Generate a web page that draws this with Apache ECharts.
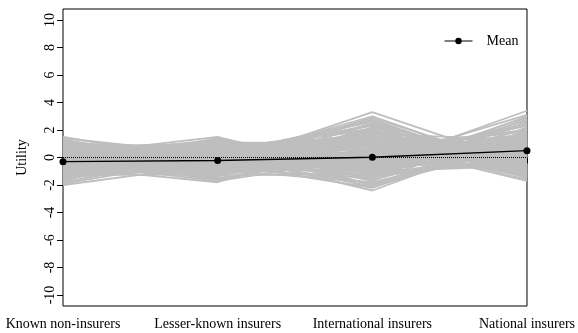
<!DOCTYPE html>
<html>
<head>
<meta charset="utf-8">
<script src="https://cdn.jsdelivr.net/npm/echarts@6/dist/echarts.min.js"></script>
<style>
  html, body { margin: 0; padding: 0; background: #fff; }
  #chart { width: 578px; height: 333px; }
</style>
</head>
<body>
<div id="chart"></div>
<script>
// attribute levels on the x axis
const categories = ['Known non-insurers', 'Lesser-known insurers', 'International insurers', 'National insurers'];

// mean utility per level
const meanUtility = [-0.3, -0.22, 0.02, 0.5];

// y ticks
const yTicks = [-10, -8, -6, -4, -2, 0, 2, 4, 6, 8, 10];

// individual utilities (one row per respondent)
const respondentUtilities = [
  [-0.6, -0.5, 3.3, -0.5],
  [-0.9, -0.2, 3.0, -0.9],
  [0.2, -0.8, 2.8, -1.2],
  [-0.5, -0.8, -0.6, 3.4],
  [-1.2, 0.1, -0.3, 3.1],
  [0.3, -1.0, -0.8, 2.9],
  [0.4, 0.3, -2.4, 1.7],
  [-0.3, 0.8, -2.2, 1.4],
  [0.5, 0.2, 1.0, -1.7],
  [-0.2, 0.6, 1.2, -1.6],
  [1.5, -0.4, -0.5, 0.0],
  [1.4, 0.2, -1.0, 0.6],
  [0.2, 1.5, -1.3, 0.1],
  [-0.6, 1.4, -0.8, 0.5],
  [-2.0, -0.5, 0.9, 1.2],
  [-1.9, 0.0, 1.1, 0.6],
  [-0.7, -1.8, 1.5, 0.9],
  [0.3, -1.7, 0.8, 0.6],
  [0.9, 0.9, -1.0, -0.5],
  [-1.3, -1.2, 1.2, 1.4],
  [0.6, 1.1, 1.0, -0.6],
  [-0.4, -1.3, -1.2, 1.1],
  [-0.8, -0.6, 1.7, 1.3],
  [0.7, 0.6, -1.0, -0.6],
  [-0.3, -0.2, 0.0, 0.5],
  [0.5, -0.9, 1.6, -0.4],
  [-1.0, 0.4, -1.2, 1.8],
  [0.9, -0.6, 0.5, -0.2],
  [-1.4, 0.7, 0.3, 0.4],
  [0.1, 0.9, -1.6, 1.1],
  [-0.8, -1.1, 2.2, -0.3],
  [1.1, -0.3, -0.9, 2.1],
  [-1.5, -0.2, 1.9, -0.2],
  [0.6, 0.4, -0.5, -0.5],
  [-0.5, 1.0, 0.8, -1.3],
  [0.0, -1.3, 0.4, 0.9],
  [-1.1, 0.2, 2.6, -0.7],
  [0.8, -0.1, -1.9, 1.2],
  [-0.2, 0.5, -0.4, 2.5],
  [-1.6, 0.9, 0.6, 0.1],
  [0.4, -0.7, 2.4, -1.1],
  [-0.9, 1.1, -2.0, 0.8],
  [1.2, -1.2, 0.2, -0.2],
  [-0.4, -0.4, -0.7, 2.7],
  [0.2, 0.0, 1.4, -0.9],
  [-1.2, -0.9, -0.1, 1.6],
  [0.7, 0.7, -1.4, 0.0],
  [-0.7, -1.4, 1.7, 0.4],
  [0.3, 1.2, 0.1, -1.0],
  [-1.3, 0.6, -0.6, 1.3],
  [0.0, -0.5, 2.9, -0.8],
  [-0.6, 0.3, -1.1, 3.0],
  [1.0, -1.0, 1.0, -1.4],
  [-1.7, 1.0, 0.0, 0.7],
  [0.5, 0.1, -2.1, 1.5],
  [-0.1, -1.6, 0.7, 1.0],
  [-0.9, 0.8, 1.3, -1.2],
  [0.9, -0.8, -0.2, 0.1],
  [-1.0, -0.6, 2.0, 0.2],
  [0.3, 0.5, -1.7, 2.2],
  [-0.4, -1.1, 0.6, 1.9],
  [0.6, -0.2, 1.8, -1.5],
  [-1.4, 0.2, -0.9, 2.4],
  [0.1, 1.3, -0.3, -0.6],
  [-0.8, -0.3, 1.1, 0.0],
  [1.3, -0.5, -1.3, 0.5],
  [-0.3, 0.4, 2.3, -1.0],
  [-1.1, -0.8, -1.5, 2.6],
  [0.4, 0.9, 0.9, -0.9],
  [-0.5, -1.5, 0.3, 1.7],
  [0.8, 0.0, -0.8, 1.4],
  [-1.6, 0.5, 1.5, -0.4],
  [0.2, -0.4, -2.2, 2.0],
  [-0.2, 0.2, 2.7, -1.1],
  [-0.5, 0.1, 0.4, 0.8],
  [0.2, -0.3, -0.2, 1.0],
  [-0.9, 0.5, 0.9, 0.3],
  [0.6, -0.6, 1.2, -0.7],
  [-0.1, 0.2, -1.0, 1.6],
  [-1.2, 0.3, 1.8, -0.6],
  [0.4, -1.2, -0.4, 1.3],
  [-0.6, 0.9, 0.2, -0.2],
  [1.0, 0.3, 0.6, -1.2],
  [-1.5, -0.5, 0.5, 1.1],
  [0.0, 0.7, -2.0, 1.9],
  [-0.3, -0.9, 2.5, -0.6],
  [0.8, 0.4, -0.1, 0.2],
  [-1.0, -1.0, 0.0, 2.3],
  [0.5, 0.6, 2.1, -1.3],
  [-0.7, 0.0, -1.4, 2.8],
  [0.1, -0.7, 1.3, 0.3],
  [-1.8, 0.3, -0.5, 1.8],
  [1.1, 0.5, -0.6, -0.4],
  [-0.4, -1.7, 0.0, 1.5],
  [0.3, 0.0, -0.7, 0.8],
  [-0.2, 0.8, 1.6, -1.4],
  [-1.3, -0.1, 0.7, 2.0],
  [0.7, -0.9, -1.8, 1.0],
  [-0.6, 0.6, 2.0, -0.9],
  [0.0, 0.0, 0.3, 0.3],
  [-0.9, -0.4, -0.3, 0.9],
  [0.4, 1.0, -0.9, 0.4],
  [-1.1, 0.0, 2.4, -0.3],
  [1.2, -0.7, 0.9, -1.0]
];

const font = 'Liberation Serif, Times New Roman, serif';
const chart = echarts.init(document.getElementById('chart'));

const greySeries = respondentUtilities.map(function (u) {
  return {
    type: 'line',
    data: u,
    symbol: 'none',
    silent: true,
    z: 1,
    lineStyle: { color: '#bebebe', width: 1.8 }
  };
});

const option = {
  animation: false,
  backgroundColor: '#fff',
  grid: {
    left: 63, right: 50, top: 9, bottom: 27,
    show: true, borderColor: '#000', borderWidth: 1, backgroundColor: 'transparent'
  },
  legend: {
    data: [{ name: 'Mean', itemStyle: { color: '#000' }, lineStyle: { color: '#000', width: 1 } }],
    left: 439,
    top: 29,
    itemWidth: 28,
    itemHeight: 8,
    textStyle: { fontFamily: font, fontSize: 14, color: '#000', padding: [0, 0, 0, 9] }
  },
  xAxis: {
    type: 'category',
    data: categories,
    boundaryGap: false,
    axisLine: { show: false },
    axisTick: { show: true, inside: false, length: 6, lineStyle: { color: '#000' } },
    axisLabel: { color: '#000', fontFamily: font, fontSize: 14, margin: 11, interval: 0 },
    splitLine: { show: false }
  },
  yAxis: {
    type: 'value',
    min: -10.8,
    max: 10.8,
    name: 'Utility',
    nameLocation: 'middle',
    nameGap: 34,
    nameTextStyle: { fontFamily: font, fontSize: 14, color: '#000' },
    axisLine: { show: false },
    axisTick: { show: true, length: 6, lineStyle: { color: '#000' }, customValues: yTicks },
    axisLabel: { color: '#000', fontFamily: font, fontSize: 14, rotate: 90, margin: 6, customValues: yTicks },
    splitLine: { show: false }
  },
  series: greySeries.concat([{
    name: 'Mean',
    type: 'line',
    data: meanUtility,
    symbol: 'circle',
    symbolSize: 7,
    z: 5,
    itemStyle: { color: '#000' },
    lineStyle: { color: '#000', width: 1.5 },
    markLine: {
      silent: true,
      symbol: 'none',
      label: { show: false },
      lineStyle: { color: '#000', type: 'dotted', width: 1 },
      data: [{ yAxis: 0 }]
    }
  }])
};

chart.setOption(option);
</script>
</body>
</html>
